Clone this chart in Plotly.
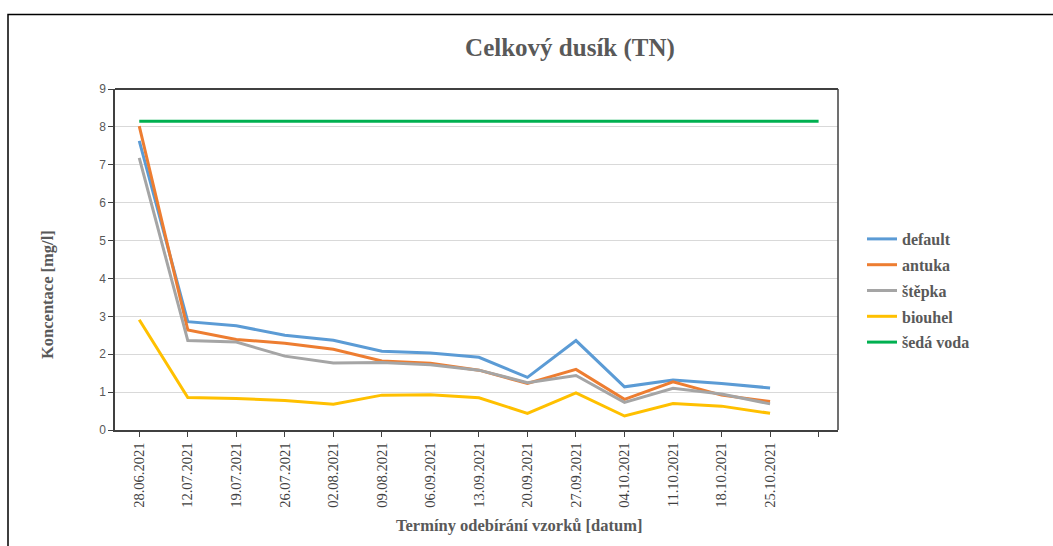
import plotly.graph_objects as go

dates = ["28.06.2021", "12.07.2021", "19.07.2021", "26.07.2021", "02.08.2021",
         "09.08.2021", "06.09.2021", "13.09.2021", "20.09.2021", "27.09.2021",
         "04.10.2021", "11.10.2021", "18.10.2021", "25.10.2021", ""]

default = [7.63, 2.86, 2.75, 2.50, 2.37, 2.08, 2.03, 1.92, 1.39, 2.36, 1.14, 1.32, 1.23, 1.11]
antuka = [8.02, 2.64, 2.39, 2.29, 2.13, 1.82, 1.76, 1.58, 1.23, 1.60, 0.81, 1.27, 0.92, 0.75]
stepka = [7.18, 2.36, 2.32, 1.95, 1.77, 1.78, 1.72, 1.58, 1.25, 1.44, 0.73, 1.10, 0.95, 0.69]
biouhel = [2.91, 0.86, 0.83, 0.78, 0.68, 0.92, 0.93, 0.85, 0.44, 0.98, 0.37, 0.70, 0.63, 0.44]
seda_voda = [8.15, 8.15, 8.15, 8.15, 8.15, 8.15, 8.15, 8.15, 8.15, 8.15, 8.15, 8.15, 8.15, 8.15, 8.15]

y_ticks = [0, 1, 2, 3, 4, 5, 6, 7, 8, 9]

series = [
    ("default", default, "#5B9BD5"),
    ("antuka", antuka, "#ED7D31"),
    ("štěpka", stepka, "#A5A5A5"),
    ("biouhel", biouhel, "#FFC000"),
    ("šedá voda", seda_voda, "#00B050"),
]

fig = go.Figure()
for i, (name, vals, col) in enumerate(series):
    fig.add_trace(go.Scatter(
        x=list(range(len(vals))), y=vals, mode="lines", name=f"<b>{name}</b>",
        line=dict(color=col, width=3), legendgroup=f"g{i}",
    ))

W, H = 1053, 546
L, R, T, B = 115, 838, 89, 430
pw, ph = R - L, B - T

def px(x):
    return (x - L) / pw

def py(y):
    return (B - y) / ph

serif = "Liberation Serif"

fig.update_layout(
    width=W, height=H,
    margin=dict(l=L, r=W - R, t=T, b=H - B, autoexpand=False),
    paper_bgcolor="white", plot_bgcolor="white",
    title=dict(text="<b>Celkový dusík (TN)</b>", x=570 / W, xanchor="center",
               y=1 - 47 / H, yanchor="middle",
               font=dict(family=serif, size=25, color="#595959")),
    showlegend=True,
    legend=dict(x=px(862), xanchor="left", y=py(222), yanchor="top",
                font=dict(family=serif, size=16, color="#595959"),
                tracegroupgap=2, bgcolor="rgba(0,0,0,0)", itemwidth=30),
    xaxis=dict(
        range=[-0.5, 14.4], tickmode="array", tickvals=list(range(len(dates))),
        ticktext=dates, tickangle=-90, showgrid=False, zeroline=False,
        ticks="outside", ticklen=5, tickcolor="#404040", tickwidth=1,
        showline=True, linecolor="#404040", linewidth=1.5, mirror=False,
        tickfont=dict(family=serif, size=14.5, color="#404040"),
    ),
    yaxis=dict(
        range=[0, 9], tickmode="array", tickvals=y_ticks,
        showgrid=True, gridcolor="#D9D9D9", gridwidth=1, zeroline=False,
        ticks="outside", ticklen=5, tickcolor="#404040",
        showline=True, linecolor="#404040", linewidth=1.5,
        tickfont=dict(family="Liberation Sans", size=12, color="#595959"),
    ),
    annotations=[
        dict(text="<b>Termíny odebírání vzorků [datum]</b>", xref="paper", yref="paper",
             x=px(519), y=py(525), showarrow=False, xanchor="center", yanchor="middle",
             font=dict(family=serif, size=16.5, color="#595959")),
        dict(text="<b>Koncentace [mg/l]</b>", xref="paper", yref="paper",
             x=px(47), y=py(295), showarrow=False, textangle=-90,
             xanchor="center", yanchor="middle",
             font=dict(family=serif, size=16.5, color="#595959")),
    ],
    shapes=[
        dict(type="line", xref="paper", yref="paper", x0=0, x1=1, y0=1, y1=1,
             line=dict(color="#000000", width=1.5)),
        dict(type="line", xref="paper", yref="paper", x0=1, x1=1, y0=0, y1=1,
             line=dict(color="#404040", width=1.5)),
        dict(type="rect", xref="paper", yref="paper",
             x0=px(8), x1=px(1070), y0=py(570), y1=py(14.5),
             line=dict(color="#000000", width=1.5), fillcolor="rgba(0,0,0,0)",
             layer="above"),
    ],
)

fig.write_html("out.html", config={"displayModeBar": False},
               post_script="document.body.style.margin='0';")
